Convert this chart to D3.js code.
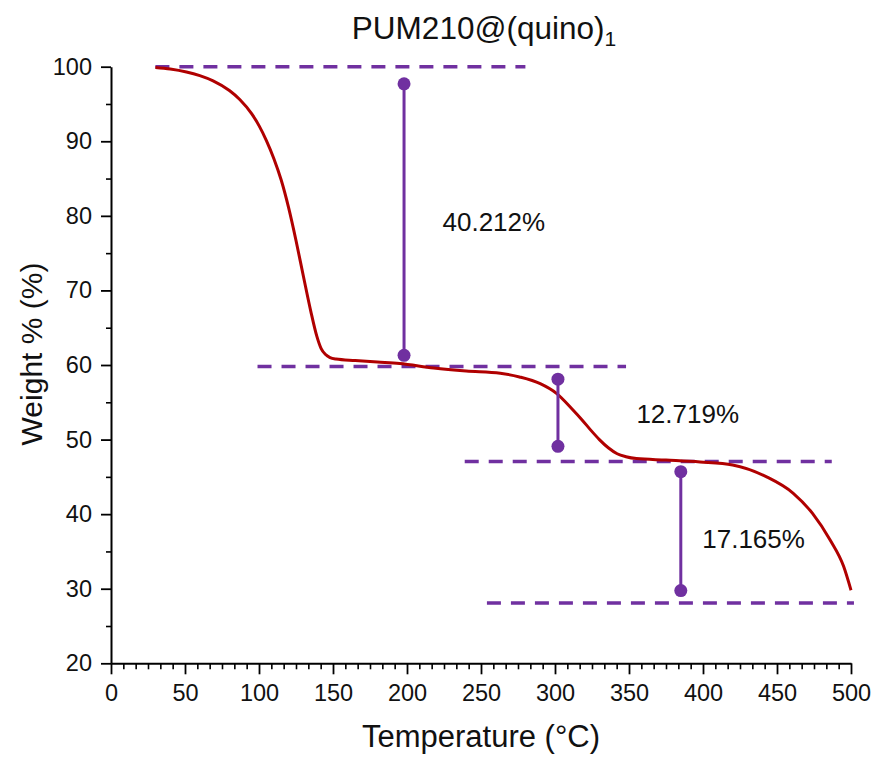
<!DOCTYPE html>
<html>
<head>
<meta charset="utf-8">
<script src="https://cdn.jsdelivr.net/npm/d3@7"></script>
<style>
  html, body { margin: 0; padding: 0; background: #fff; }
  svg { display: block; font-family: "Liberation Sans", Arial, sans-serif; }
</style>
</head>
<body>
<svg id="chart" width="876" height="758"></svg>
<script>
// TGA trace: temperature (°C) vs remaining weight (%)
const tempC = [30, 40, 51, 60, 69, 80, 87, 95, 100, 105, 110, 115, 120, 125, 130, 135, 139, 142, 145, 148, 152,
  165, 180, 195, 218, 240, 263, 276, 290, 301, 312, 318, 324, 330, 336, 342, 348, 355, 375, 398, 420, 443, 461, 474, 486, 495, 500];
const weightPct = [99.9, 99.7, 99.3, 98.8, 98.1, 96.8, 95.6, 93.7, 92.1, 90.1, 87.7, 84.8, 81.1, 76.7, 71.9, 67.2, 63.9, 62.2, 61.4, 61.0, 60.8,
  60.6, 60.4, 60.2, 59.6, 59.2, 58.9, 58.4, 57.5, 56.2, 54.0, 52.7, 51.3, 50.0, 48.9, 48.1, 47.7, 47.45, 47.25, 47.0, 46.6, 45.0, 42.8, 40.1, 36.5, 33.0, 29.8];

// Dashed reference levels (weight %) with their temperature span
const levelWeight = [100, 59.788, 47.069, 28.1];
const levelFrom = [30, 99, 239, 254];
const levelTo = [280, 348, 487, 502];

// Step markers: vertical bars with end dots
const stepTemp = [198, 302, 385];
const stepTop = [97.7, 58.1, 45.7];
const stepBottom = [61.3, 49.1, 29.75];

// Step loss labels
const lossLabels = ["40.212%", "12.719%", "17.165%"];
const lossLabelTemp = [224, 355, 399.5];
const lossLabelWeight = [78.0, 52.2, 35.4];

const xTicks = [0, 50, 100, 150, 200, 250, 300, 350, 400, 450, 500];
const yTicks = [20, 30, 40, 50, 60, 70, 80, 90, 100];

const svg = d3.select("#chart");
const x = d3.scaleLinear().domain([0, 500]).range([111, 851]);
const y = d3.scaleLinear().domain([20, 100]).range([663.3, 66.7]);

const purple = "#7030a0";
const red = "#b00000";

// Minor ticks
const xMinor = d3.range(0, 500.001, 50 / 6).filter(v => Math.abs(v / 50 - Math.round(v / 50)) > 1e-6);
const yMinor = d3.range(25, 100, 10);

svg.append("g")
  .attr("transform", `translate(0,${y(20)})`)
  .call(d3.axisBottom(x).tickValues(xMinor).tickSize(6).tickFormat(""))
  .call(g => g.select(".domain").remove())
  .selectAll("line").attr("stroke", "#000").attr("stroke-width", 1.6);

svg.append("g")
  .attr("transform", `translate(${x(0)},0)`)
  .call(d3.axisLeft(y).tickValues(yMinor).tickSize(5).tickFormat(""))
  .call(g => g.select(".domain").remove())
  .selectAll("line").attr("stroke", "#000").attr("stroke-width", 1.6);

// Major axes
const xAxis = svg.append("g")
  .attr("transform", `translate(0,${y(20)})`)
  .call(d3.axisBottom(x).tickValues(xTicks).tickSize(11).tickSizeOuter(0).tickPadding(10));
const yAxis = svg.append("g")
  .attr("transform", `translate(${x(0)},0)`)
  .call(d3.axisLeft(y).tickValues(yTicks).tickSize(10).tickSizeOuter(0).tickPadding(9));

[xAxis, yAxis].forEach(a => {
  a.select(".domain").attr("stroke", "#000").attr("stroke-width", 2);
  a.selectAll(".tick line").attr("stroke", "#000").attr("stroke-width", 1.8);
  a.selectAll(".tick text").attr("fill", "#111").style("font-size", "23.5px")
    .style("font-family", "'Liberation Sans', Arial, sans-serif");
});

// Dashed levels
svg.append("g").selectAll("line")
  .data(levelWeight)
  .join("line")
  .attr("x1", (d, i) => x(levelFrom[i]))
  .attr("x2", (d, i) => x(levelTo[i]))
  .attr("y1", d => y(d))
  .attr("y2", d => y(d))
  .attr("stroke", purple)
  .attr("stroke-width", 3.5)
  .attr("stroke-dasharray", "14 10");

// TGA curve
const line = d3.line()
  .x(d => x(d[0]))
  .y(d => y(d[1]))
  .curve(d3.curveMonotoneX);
svg.append("path")
  .datum(tempC.map((t, i) => [t, weightPct[i]]))
  .attr("d", line)
  .attr("fill", "none")
  .attr("stroke", red)
  .attr("stroke-width", 3);

// Step markers
const steps = svg.append("g");
stepTemp.forEach((t, i) => {
  steps.append("line")
    .attr("x1", x(t)).attr("x2", x(t))
    .attr("y1", y(stepTop[i])).attr("y2", y(stepBottom[i]))
    .attr("stroke", purple).attr("stroke-width", 3);
  [stepTop[i], stepBottom[i]].forEach(v => {
    steps.append("circle")
      .attr("cx", x(t)).attr("cy", y(v)).attr("r", 6.5)
      .attr("fill", purple);
  });
});

// Loss labels
svg.append("g").selectAll("text")
  .data(lossLabels)
  .join("text")
  .attr("x", (d, i) => x(lossLabelTemp[i]))
  .attr("y", (d, i) => y(lossLabelWeight[i]))
  .attr("fill", "#111")
  .style("font-size", "26px")
  .text(d => d);

// Title
const title = svg.append("text")
  .attr("x", 484)
  .attr("y", 39)
  .attr("text-anchor", "middle")
  .attr("fill", "#111")
  .style("font-size", "31.5px");
title.append("tspan").text("PUM210@(quino)");
title.append("tspan").attr("dy", 7).style("font-size", "21px").text("1");

// Axis titles
svg.append("text")
  .attr("x", 481)
  .attr("y", 747)
  .attr("text-anchor", "middle")
  .attr("fill", "#111")
  .style("font-size", "31px")
  .text("Temperature (°C)");

svg.append("text")
  .attr("transform", "translate(42,354) rotate(-90)")
  .attr("text-anchor", "middle")
  .attr("fill", "#111")
  .style("font-size", "30px")
  .text("Weight % (%)");
</script>
</body>
</html>
